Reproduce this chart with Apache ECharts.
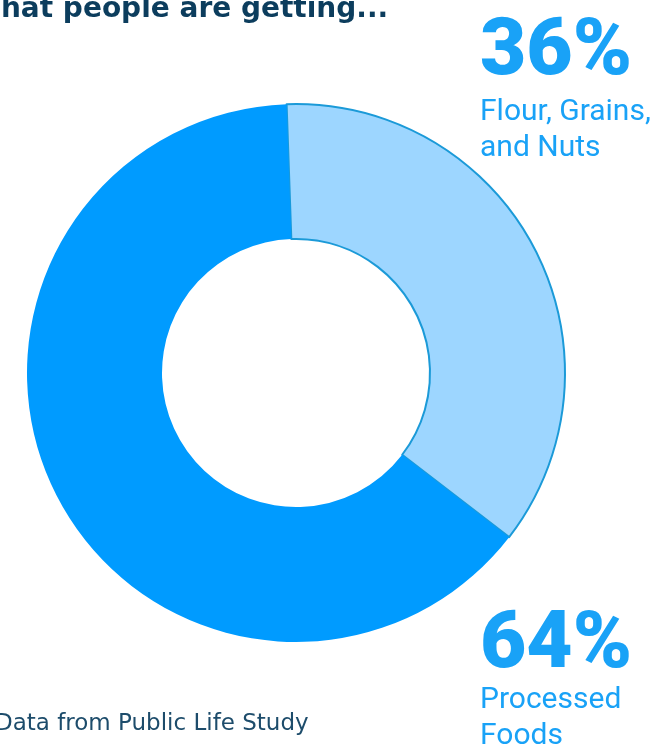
<!DOCTYPE html>
<html>
<head>
<meta charset="utf-8">
<script src="https://cdn.jsdelivr.net/npm/echarts@6/dist/echarts.min.js"></script>
<style>
  html, body { margin: 0; padding: 0; background: #ffffff; }
  #chart { width: 662px; height: 748px; }
</style>
</head>
<body>
<div id="chart"></div>
<script>
// Share of what people are getting, by food type
const categories = ['Flour, Grains,\nand Nuts', 'Processed\nFoods'];
const shares = [36, 64];
const sliceColors = ['#9dd6ff', '#009bff'];

const titleText = 'What people are getting...';
const sourceText = 'Data from Public Life Study';

const NUM_FONT = 'Roboto, "Liberation Sans", sans-serif';
const TEXT_FONT = '"DejaVu Sans", sans-serif';

const chart = echarts.init(document.getElementById('chart'), null, { renderer: 'canvas' });

const pieData = categories.map((name, i) => ({
  name: name,
  value: shares[i],
  itemStyle: i === 0
    ? { color: sliceColors[i], borderColor: '#1b9ad8', borderWidth: 2 }
    : { color: sliceColors[i], borderWidth: 0 }
}));

// Callout blocks: big percentage, then the category name underneath
const callouts = [
  { numTop: 14, nameTop: 94, index: 0 },
  { numTop: 607, nameTop: 682, index: 1 }
];

const graphics = [];
callouts.forEach(c => {
  graphics.push({
    type: 'text',
    left: 480,
    top: c.numTop,
    style: {
      text: shares[c.index] + '%',
      font: '900 80px ' + NUM_FONT,
      fill: '#19a2f7'
    }
  });
  graphics.push({
    type: 'text',
    left: 480,
    top: c.nameTop,
    style: {
      text: categories[c.index],
      font: '30px ' + NUM_FONT,
      lineHeight: 36,
      fill: '#19a2f7'
    }
  });
});

graphics.push({
  type: 'text',
  left: -30,
  top: -4,
  style: {
    text: titleText,
    font: 'bold 28px ' + TEXT_FONT,
    fill: '#0c3d5d'
  }
});

graphics.push({
  type: 'text',
  left: -5,
  top: 713,
  style: {
    text: sourceText,
    font: '23px ' + TEXT_FONT,
    fill: '#1d4c6b'
  }
});

chart.setOption({
  animation: false,
  backgroundColor: '#ffffff',
  series: [{
    type: 'pie',
    center: [296, 373],
    radius: [134, 269],
    startAngle: 92,
    clockwise: true,
    label: { show: false },
    labelLine: { show: false },
    emphasis: { disabled: true },
    data: pieData
  }],
  graphic: graphics
});
</script>
</body>
</html>
